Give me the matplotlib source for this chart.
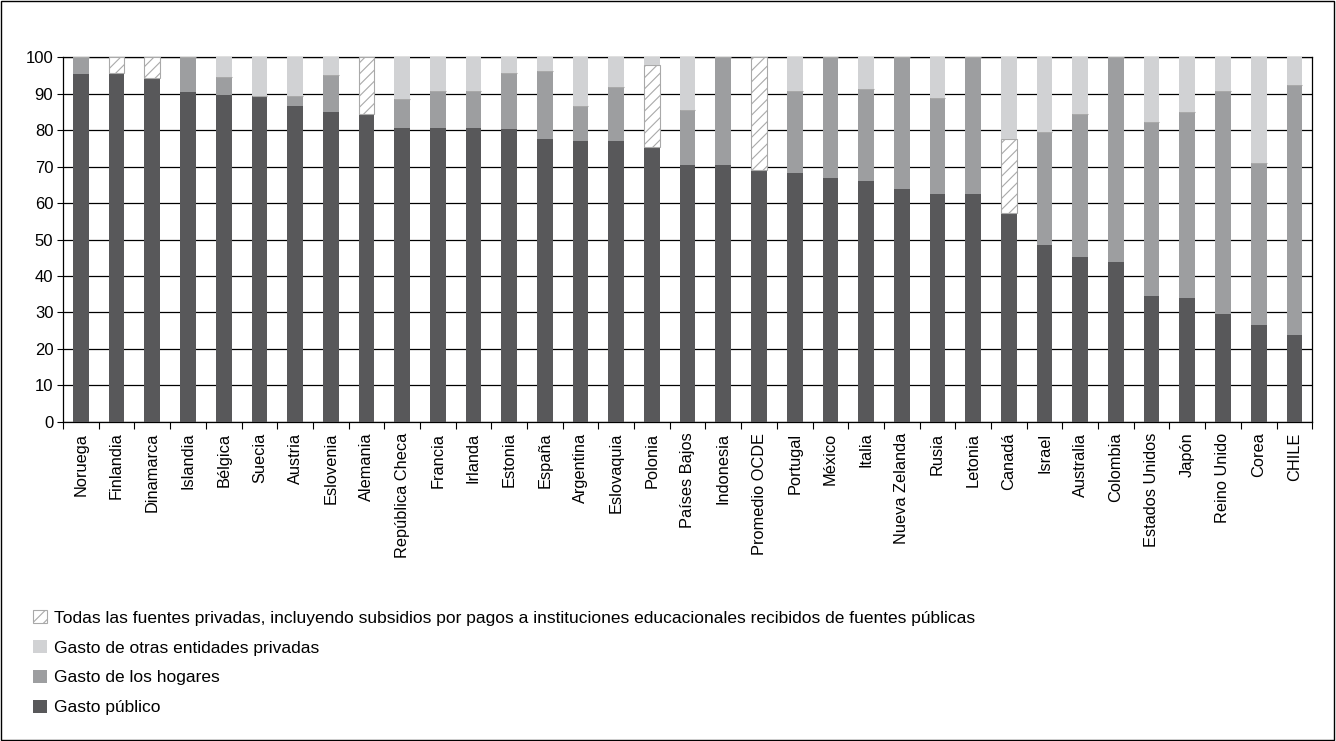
import matplotlib.pyplot as plt
import numpy as np
from matplotlib.patches import Patch, Rectangle

paises = ['Noruega', 'Finlandia', 'Dinamarca', 'Islandia', 'Bélgica', 'Suecia', 'Austria',
          'Eslovenia', 'Alemania', 'República Checa', 'Francia', 'Irlanda', 'Estonia', 'España',
          'Argentina', 'Eslovaquia', 'Polonia', 'Países Bajos', 'Indonesia', 'Promedio OCDE',
          'Portugal', 'México', 'Italia', 'Nueva Zelanda', 'Rusia', 'Letonia', 'Canadá', 'Israel',
          'Australia', 'Colombia', 'Estados Unidos', 'Japón', 'Reino Unido', 'Corea', 'CHILE']

# porcentajes
publico = [95.4, 95.7, 94.3, 90.5, 89.6, 89.4, 86.6, 85.0, 84.4, 80.6, 80.6, 80.6, 80.3, 77.5,
           77.0, 77.0, 75.4, 70.6, 70.4, 69.0, 68.4, 66.8, 66.2, 64.0, 62.4, 62.4, 57.2, 48.6,
           45.3, 43.7, 34.6, 34.0, 29.6, 26.6, 23.9]
hogares = [4.6, 0, 0, 9.5, 5.0, 0, 2.8, 10.1, 0, 7.9, 10.1, 10.1, 15.4, 18.7,
           9.6, 14.8, 0, 14.9, 29.6, 0, 22.3, 33.2, 25.1, 36.0, 26.4, 37.6, 0, 30.8,
           39.1, 56.3, 47.6, 51.0, 61.1, 44.3, 68.5]
privadas_todas = [0, 4.3, 5.7, 0, 0, 0, 0, 0, 15.6, 0, 0, 0, 0, 0,
                  0, 0, 22.5, 0, 0, 31.0, 0, 0, 0, 0, 0, 0, 20.3, 0,
                  0, 0, 0, 0, 0, 0, 0]
otras = [100 - a - b - c for a, b, c in zip(publico, hogares, privadas_todas)]

c_pub = '#58585a'
c_hog = '#9d9ea0'
c_otr = '#d1d2d4'
c_hatch = '#a9a9a9'

plt.rcParams['font.family'] = ['Liberation Sans', 'DejaVu Sans']
plt.rcParams['hatch.linewidth'] = 0.8
fig = plt.figure(figsize=(13.36, 7.41), dpi=100)
ax = fig.add_axes([0.0472, 0.431, 0.935, 0.4915])

x = np.arange(len(paises))
w = 0.44
b1 = np.array(publico)
b2 = b1 + np.array(hogares)
b3 = b2 + np.array(privadas_todas)

ax.bar(x, publico, w, color=c_pub, zorder=3)
ax.bar(x, hogares, w, bottom=b1, color=c_hog, zorder=3)
ax.bar(x, privadas_todas, w, bottom=b2, facecolor='white', edgecolor=c_hatch,
       hatch='///', linewidth=0.8, zorder=3)
ax.bar(x, otras, w, bottom=b3, color=c_otr, zorder=3)

ax.set_xlim(-0.5, len(paises) - 0.5)
ax.set_ylim(0, 100)
ax.set_yticks(range(0, 101, 10))
ax.yaxis.grid(True, color='black', linewidth=0.9, zorder=0)
ax.set_axisbelow(True)
ax.tick_params(axis='y', labelsize=12, length=4, width=0.8, pad=3)

ax.set_xticks(x)
ax.set_xticklabels(paises, rotation=90, fontsize=11.8)
ax.tick_params(axis='x', which='major', length=0, pad=8)
ax.set_xticks(np.arange(-0.5, len(paises)), minor=True)
ax.tick_params(axis='x', which='minor', length=5, width=0.8)

for s in ax.spines.values():
    s.set_color('black')
    s.set_linewidth(0.9)

handles = [
    Patch(facecolor='white', edgecolor=c_hatch, hatch='///', linewidth=0.8),
    Patch(facecolor=c_otr),
    Patch(facecolor=c_hog),
    Patch(facecolor=c_pub),
]
labels = [
    'Todas las fuentes privadas, incluyendo subsidios por pagos a instituciones educacionales recibidos de fuentes públicas',
    'Gasto de otras entidades privadas',
    'Gasto de los hogares',
    'Gasto público',
]
fig.legend(handles, labels, loc='upper left', bbox_to_anchor=(0.0185, 0.1885), frameon=False,
           prop={'size': 12.55},
           handlelength=0.78, handleheight=0.78, handletextpad=0.42, labelspacing=0.82,
           borderpad=0)

fig.add_artist(Rectangle((0.0005, 0.001), 0.998, 0.997, transform=fig.transFigure,
                         fill=False, edgecolor='black', linewidth=1))

fig.savefig('out.png', dpi=100)
